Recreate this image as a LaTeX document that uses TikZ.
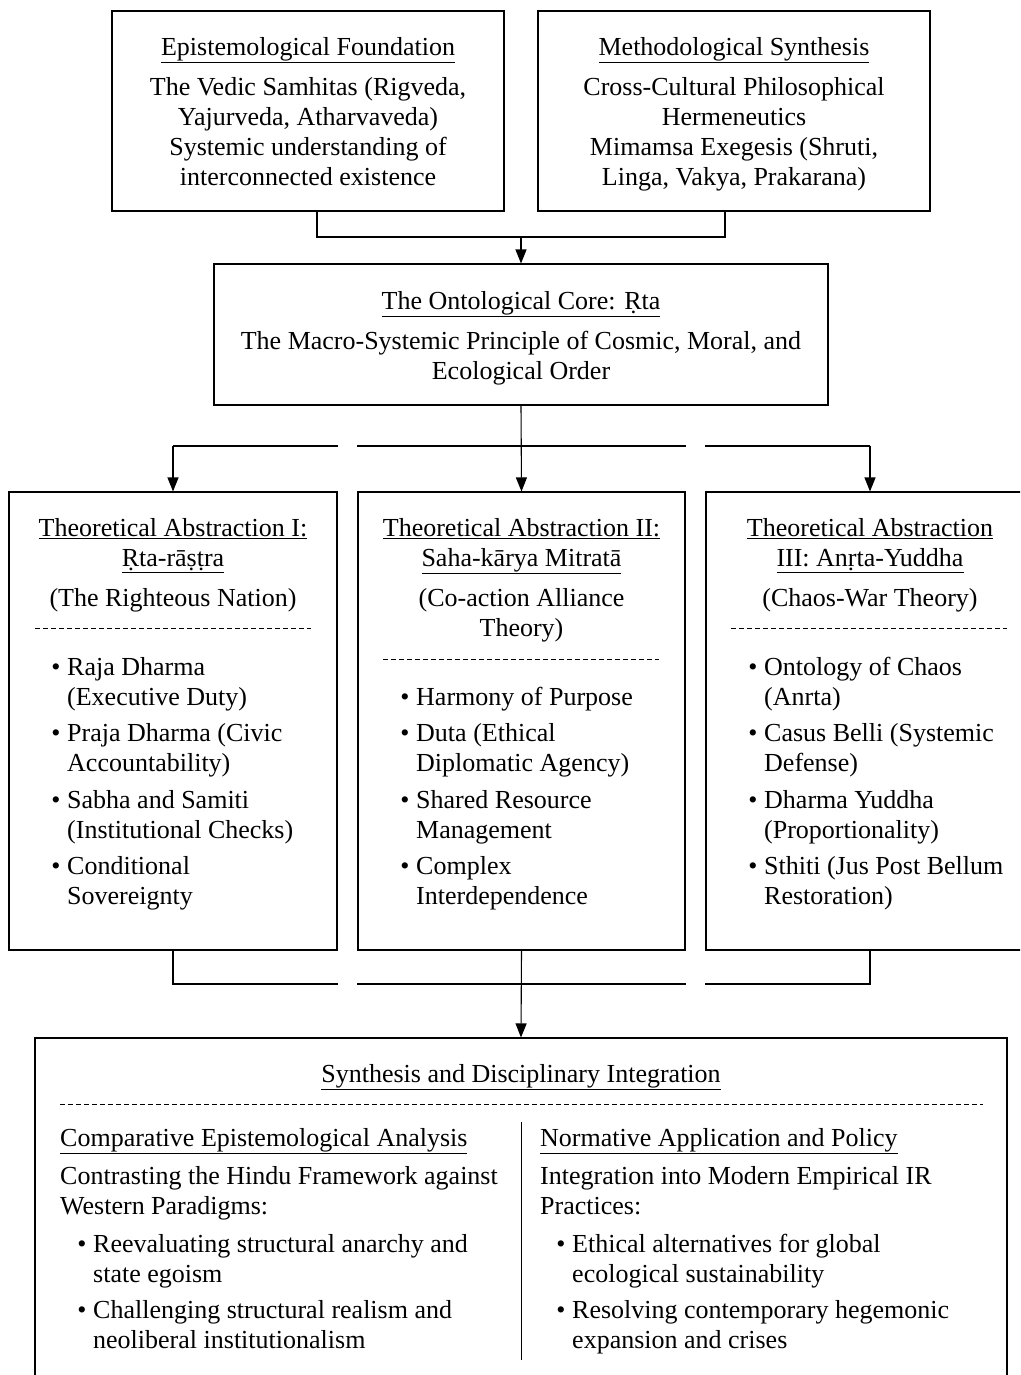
\documentclass[tikz,border=0pt]{standalone}
\usepackage{fontspec}
\setmainfont{Liberation Serif}
\usetikzlibrary{arrows.meta,calc}
\tikzset{
  box/.style={draw, line width=1.1pt, inner sep=0pt},
  txt/.style={font=\fontsize{26}{30}\selectfont, inner sep=0pt, anchor=north, align=center},
  ltxt/.style={font=\fontsize{26}{30}\selectfont, inner sep=0pt, anchor=north west, align=left},
  bul/.style={font=\fontsize{26}{30}\selectfont, inner sep=0pt, anchor=north},
  conn/.style={line width=1.1pt},
  hseg/.style={line width=1.8pt},
  arr/.style={line width=1.1pt, -{Triangle[length=14pt,width=11pt]}},
  dsh/.style={line width=0.8pt, dash pattern=on 5pt off 3pt},
}
\begin{document}
\begin{tikzpicture}[x=1pt,y=-1pt]
\useasboundingbox (0,0) rectangle (1020,1375);
\begin{scope}
\clip (0,0) rectangle (1020,1375);
% boxes
\node[box, minimum width=392, minimum height=200] (epi) at (308,111) {};
\node[box, minimum width=392, minimum height=200] (meth) at (734,111) {};
\node[box, minimum width=614, minimum height=141] (core) at (521,334.5) {};
\node[box, minimum width=328, minimum height=458] (left) at (173,721) {};
\node[box, minimum width=327, minimum height=458] (mid) at (521.5,721) {};
\node[box, minimum width=328, minimum height=458] (right) at (870,721) {};
\node[box, minimum width=972, minimum height=362] (bot) at (521,1219) {};

% top box texts
\node[txt] (epiT) at (308,34) {\strut\underline{Epistemological Foundation}};
\node[txt] (epiB) at (308,74) {\strut The Vedic Samhitas (Rigveda,\\Yajurveda, Atharvaveda)\\Systemic understanding of\\interconnected existence};
\node[txt] (methT) at (734,34) {\strut\underline{Methodological Synthesis}};
\node[txt] (methB) at (734,74) {\strut Cross-Cultural Philosophical\\Hermeneutics\\Mimamsa Exegesis (Shruti,\\Linga, Vakya, Prakarana)};

% core
\node[txt] (coreT) at (521,288) {\strut\underline{The Ontological Core: Ṛta}};
\node[txt] (coreB) at (521,328) {\strut The Macro-Systemic Principle of Cosmic, Moral, and\\Ecological Order};

% left box
\node[txt] (lT) at (173,515) {\strut\underline{Theoretical Abstraction I:}\\\underline{Ṛta-rāṣṭra}};
\node[txt] (lS) at (173,585) {\strut(The Righteous Nation)};
\draw[dsh] (35,628) -- (311,628);
\node[bul] (lb1) at (56,654) {\strut•};
\node[ltxt] (li1) at (67,654) {\strut Raja Dharma\\(Executive Duty)};
\node[bul] (lb2) at (56,720) {\strut•};
\node[ltxt] (li2) at (67,720) {\strut Praja Dharma (Civic\\Accountability)};
\node[bul] (lb3) at (56,787) {\strut•};
\node[ltxt] (li3) at (67,787) {\strut Sabha and Samiti\\(Institutional Checks)};
\node[bul] (lb4) at (56,853) {\strut•};
\node[ltxt] (li4) at (67,853) {\strut Conditional\\Sovereignty};

% middle box
\node[txt] (mT) at (521.5,515) {\strut\underline{Theoretical Abstraction II:}\\\underline{Saha-kārya Mitratā}};
\node[txt] (mS) at (521.5,585) {\strut(Co-action Alliance\\Theory)};
\draw[dsh] (383,659) -- (659,659);
\node[bul] (mb1) at (405,684) {\strut•};
\node[ltxt] (mi1) at (416,684) {\strut Harmony of Purpose};
\node[bul] (mb2) at (405,720) {\strut•};
\node[ltxt] (mi2) at (416,720) {\strut Duta (Ethical\\Diplomatic Agency)};
\node[bul] (mb3) at (405,787) {\strut•};
\node[ltxt] (mi3) at (416,787) {\strut Shared Resource\\Management};
\node[bul] (mb4) at (405,853) {\strut•};
\node[ltxt] (mi4) at (416,853) {\strut Complex\\Interdependence};

% right box
\node[txt] (rT) at (870,515) {\strut\underline{Theoretical Abstraction}\\\underline{III: Anṛta-Yuddha}};
\node[txt] (rS) at (870,585) {\strut(Chaos-War Theory)};
\draw[dsh] (731,628) -- (1007,628);
\node[bul] (rb1) at (753,654) {\strut•};
\node[ltxt] (ri1) at (764,654) {\strut Ontology of Chaos\\(Anrta)};
\node[bul] (rb2) at (753,720) {\strut•};
\node[ltxt] (ri2) at (764,720) {\strut Casus Belli (Systemic\\Defense)};
\node[bul] (rb3) at (753,787) {\strut•};
\node[ltxt] (ri3) at (764,787) {\strut Dharma Yuddha\\(Proportionality)};
\node[bul] (rb4) at (753,853) {\strut•};
\node[ltxt] (ri4) at (764,853) {\strut Sthiti (Jus Post Bellum\\Restoration)};

% bottom box
\node[txt] (bT) at (521,1061) {\strut\underline{Synthesis and Disciplinary Integration}};
\draw[dsh] (60,1104) -- (983,1104);
\draw[line width=1pt] (521,1122) -- (521,1360);
\node[ltxt] (cT) at (60,1125) {\strut\underline{Comparative Epistemological Analysis}};
\node[ltxt] (cB) at (60,1163) {\strut Contrasting the Hindu Framework against\\Western Paradigms:};
\node[bul] (cb1) at (82,1231) {\strut•};
\node[ltxt] (ci1) at (93,1231) {\strut Reevaluating structural anarchy and\\state egoism};
\node[bul] (cb2) at (82,1297) {\strut•};
\node[ltxt] (ci2) at (93,1297) {\strut Challenging structural realism and\\neoliberal institutionalism};
\node[ltxt] (nT) at (540,1125) {\strut\underline{Normative Application and Policy}};
\node[ltxt] (nB) at (540,1163) {\strut Integration into Modern Empirical IR\\Practices:};
\node[bul] (nb1) at (561,1231) {\strut•};
\node[ltxt] (ni1) at (572,1231) {\strut Ethical alternatives for global\\ecological sustainability};
\node[bul] (nb2) at (561,1297) {\strut•};
\node[ltxt] (ni2) at (572,1297) {\strut Resolving contemporary hegemonic\\expansion and crises};

% connectors top
\coordinate (ea) at ($(epi.south)+(9,0)$);
\coordinate (ma) at ($(meth.south)+(-9,0)$);
\coordinate (j1) at (521,237);
\draw[conn] (ea) |- (j1) -| (ma);
\draw[arr] (j1) -- (core.north);
% core to three
\coordinate (tl) at (173,446);
\coordinate (tr) at (870,446);
\draw[arr] (core.south) -- (mid.north);
\draw[hseg] (tl) -- (left.north east |- tl);
\draw[hseg] (mid.north west |- tl) -- (mid.north east |- tl);
\draw[hseg] (right.north west |- tr) -- (tr);
\draw[arr] (tl) -- (left.north);
\draw[arr] (tr) -- (right.north);
% three to bottom
\coordinate (bl) at (173,984);
\coordinate (br) at (870,984);
\draw[conn] (left.south) -- (bl) -- (left.south east |- bl);
\draw[conn] (mid.south west |- bl) -- (mid.south east |- bl);
\draw[conn] (right.south west |- br) -- (br) -- (right.south);
\draw[arr] (mid.south) -- (bot.north);
\end{scope}
\end{tikzpicture}
\end{document}
